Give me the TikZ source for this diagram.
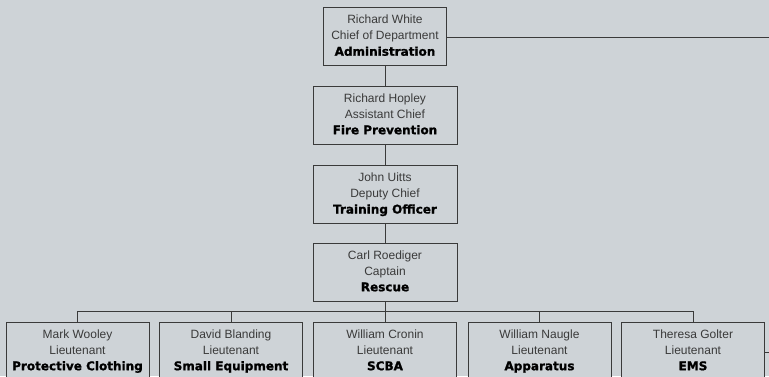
\documentclass[tikz,border=0pt]{standalone}
\usepackage{fontspec}
\setmainfont{Liberation Sans}
\newfontfamily\heavyfont{DejaVu Sans}[BoldFeatures={FakeBold=1.2}]

\definecolor{paper}{RGB}{206,211,215}
\definecolor{ink}{RGB}{58,58,58}

\tikzset{every picture/.style={line width=0.75pt}}
\tikzset{
	orgbox/.style={draw=ink, fill=paper, inner sep=0pt, align=center, text=ink,
		minimum width=108pt, minimum height=43.5pt,
		font=\fontsize{9}{12}\selectfont},
	topbox/.style={orgbox, minimum width=92.25pt},
	ltbox/.style={orgbox, minimum width=107.25pt},
	link/.style={draw=ink, line width=0.75pt}
}
% name, rank, department
\newcommand{\card}[3]{\strut#1\\\strut#2\\\strut{\heavyfont\bfseries\color{black}#3}}

\begin{document}
\begin{tikzpicture}[x=0.75pt,y=0.75pt,yscale=-1,xscale=1]
	%background, diagram is 769 x 376
	\fill [paper] (0,0) rectangle (769,376);
	\clip (0,0) rectangle (769,376);

	% Chain of command
	\node [topbox] (chief) at (385,36.5) {\card{Richard White}{Chief of Department}{Administration}};
	\node [orgbox] (asst) at (385,115) {\card{Richard Hopley}{Assistant Chief}{Fire Prevention}};
	\node [orgbox] (deputy) at (385,194.3) {\card{John Uitts}{Deputy Chief}{Training Officer}};
	\node [orgbox] (captain) at (385,272) {\card{Carl Roediger}{Captain}{Rescue}};

	% Lieutenants
	\node [ltbox] (wooley) at (77.5,351) {\card{Mark Wooley}{Lieutenant}{Protective Clothing}};
	\node [ltbox] (blanding) at (231,351) {\card{David Blanding}{Lieutenant}{Small Equipment}};
	\node [ltbox] (cronin) at (385,351) {\card{William Cronin}{Lieutenant}{SCBA}};
	\node [ltbox] (naugle) at (539.5,351) {\card{William Naugle}{Lieutenant}{Apparatus}};
	\node [ltbox] (golter) at (693,351) {\card{Theresa Golter}{Lieutenant}{EMS}};

	%Straight Lines
	\draw [link] (chief) -- (asst);
	\draw [link] (asst) -- (deputy);
	\draw [link] (deputy) -- (captain);
	\coordinate (bus) at (385,311);
	\draw [link] (captain) -- (bus);
	\foreach \lt in {wooley,blanding,cronin,naugle,golter}
		\draw [link] (\lt.north) |- (bus);

	% lines running off the right edge
	\coordinate (offtop) at (770,37);
	\coordinate (offlow) at (770,352);
	\draw [link] (chief.east |- offtop) -- (offtop);
	\draw [link] (golter.east |- offlow) -- (offlow);
\end{tikzpicture}
\end{document}
